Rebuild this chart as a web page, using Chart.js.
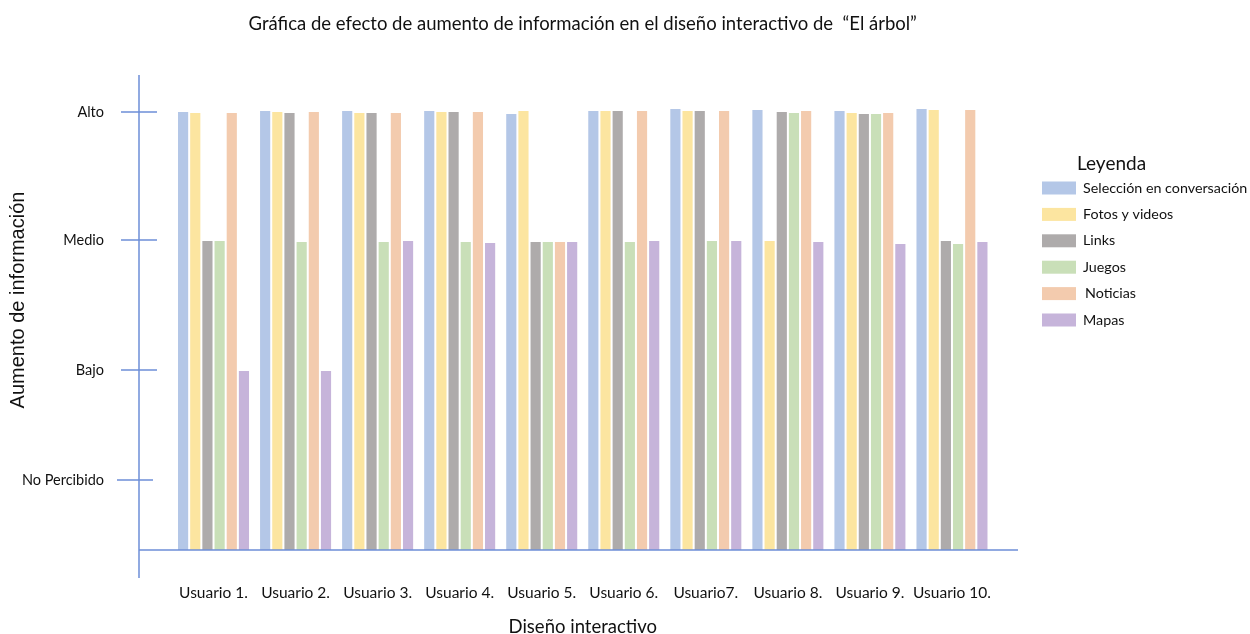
<!DOCTYPE html>
<html lang="es">
<head>
<meta charset="utf-8">
<title>Aumento de información – El árbol</title>
<script src="https://cdn.jsdelivr.net/npm/chart.js@4.4.1/dist/chart.umd.min.js"></script>
<style>
  html, body { margin: 0; padding: 0; background: #ffffff; }
  canvas { display: block; }
</style>
</head>
<body>
<canvas id="grafica" width="1250" height="634"></canvas>
<script>
// Usuarios evaluados
const usuarios = ['Usuario 1.', 'Usuario 2.', 'Usuario 3.', 'Usuario 4.', 'Usuario 5.',
                  'Usuario 6.', 'Usuario7.', 'Usuario 8.', 'Usuario 9.', 'Usuario 10.'];

// Niveles de la escala y su altura en el eje
const niveles = ['No Percibido', 'Bajo', 'Medio', 'Alto'];
const alturaNiveles = [0.70, 1.80, 3.10, 4.38];

// Aumento de información percibido por elemento
const seleccion = [4.39, 4.40, 4.40, 4.40, 4.37, 4.40, 4.42, 4.41, 4.40, 4.42];
const fotos     = [4.38, 4.39, 4.38, 4.39, 4.40, 4.40, 4.40, 3.10, 4.38, 4.41];
const links     = [3.10, 4.38, 4.38, 4.39, 3.09, 4.40, 4.40, 4.39, 4.37, 3.10];
const juegos    = [3.10, 3.09, 3.09, 3.09, 3.09, 3.09, 3.10, 4.38, 4.37, 3.07];
const noticias  = [4.38, 4.39, 4.38, 4.39, 3.09, 4.40, 4.40, 4.40, 4.38, 4.41];
const mapas     = [1.80, 1.80, 3.10, 3.08, 3.09, 3.10, 3.10, 3.09, 3.07, 3.09];

const nombresSeries = ['Selección en conversación', 'Fotos y videos', 'Links', 'Juegos', 'Noticias', 'Mapas'];
const valoresSeries = [seleccion, fotos, links, juegos, noticias, mapas];
const coloresSeries = ['#b4c7e7', '#fce5a0', '#aeabab', '#c9dfb8', '#f3cbae', '#c6b4da'];

const azulEje = '#6d8fd8';
const fuenteTexto = 'Lato, "Open Sans", sans-serif';

// Ejes dibujados a mano: línea vertical, línea base y marcas de nivel
const ejesPropios = {
  id: 'ejesPropios',
  afterDatasetsDraw(chart) {
    const { ctx, chartArea, scales: { y } } = chart;
    const ejeX = chartArea.left - 33.5;
    const base = y.getPixelForValue(0);
    ctx.save();
    ctx.strokeStyle = azulEje;
    ctx.lineWidth = 1.5;
    ctx.beginPath();
    ctx.moveTo(ejeX, y.getPixelForValue(4.75));
    ctx.lineTo(ejeX, base + 28);
    ctx.moveTo(ejeX, base);
    ctx.lineTo(chartArea.right + 25, base);
    y.ticks.forEach((t, i) => {
      const py = y.getPixelForValue(t.value);
      const desp = i === 0 ? -4 : 0;
      ctx.moveTo(ejeX - 18 + desp, py);
      ctx.lineTo(ejeX + 18 + desp, py);
    });
    ctx.stroke();
    ctx.restore();
  }
};

// Leyenda con título a la derecha de la gráfica
const leyendaPropia = {
  id: 'leyendaPropia',
  afterDraw(chart) {
    const { ctx, chartArea } = chart;
    const x0 = chartArea.right + 49;
    ctx.save();
    ctx.fillStyle = '#111';
    ctx.textBaseline = 'middle';
    ctx.textAlign = 'left';
    ctx.font = '19px ' + fuenteTexto;
    ctx.fillText('Leyenda', x0 + 35, 164);
    ctx.font = '14.3px ' + fuenteTexto;
    chart.data.datasets.forEach((ds, i) => {
      const cy = 188 + i * 26.4;
      ctx.fillStyle = ds.backgroundColor;
      ctx.fillRect(x0, cy - 6.5, 34, 13);
      ctx.fillStyle = '#111';
      ctx.fillText(ds.label, x0 + 41 + (i === 4 ? 2 : 0), cy);
    });
    ctx.restore();
  }
};

new Chart(document.getElementById('grafica'), {
  type: 'bar',
  data: {
    labels: usuarios,
    datasets: nombresSeries.map((nombre, i) => ({
      label: nombre,
      data: valoresSeries[i],
      backgroundColor: coloresSeries[i],
      borderColor: 'rgba(255,255,255,0.55)',
      borderWidth: 1,
      barPercentage: 1.0,
      categoryPercentage: 0.89
    }))
  },
  options: {
    responsive: false,
    animation: false,
    layout: { padding: { left: 0, right: 257, top: 0, bottom: 0 } },
    plugins: {
      legend: { display: false },
      tooltip: { enabled: false },
      title: {
        display: true,
        fullSize: false,
        text: 'Gráfica de efecto de aumento de información en el diseño interactivo de  “El árbol”',
        color: '#111',
        font: { family: fuenteTexto, size: 18.5, weight: 'normal', lineHeight: '19px' },
        padding: { top: 14.5, bottom: 16.5 }
      }
    },
    scales: {
      x: {
        grid: { display: false, drawTicks: false },
        border: { display: false },
        ticks: {
          color: '#111',
          padding: 34.6,
          maxRotation: 0,
          autoSkip: false,
          font: { family: fuenteTexto, size: 15.5, lineHeight: '17px' }
        },
        title: {
          display: true,
          text: 'Diseño interactivo',
          color: '#111',
          font: { family: fuenteTexto, size: 18.5, lineHeight: '14px' },
          padding: 0
        },
        afterFit(scale) { scale.height = 84; }
      },
      y: {
        min: 0,
        max: 5,
        grid: { display: false, drawTicks: false },
        border: { display: false },
        afterBuildTicks(scale) {
          scale.ticks = alturaNiveles.map(v => ({ value: v }));
        },
        ticks: {
          color: '#111',
          padding: 68.5,
          font: { family: fuenteTexto, size: 14.5 },
          callback: (valor, i) => niveles[i]
        },
        title: {
          display: true,
          text: 'Aumento de información',
          color: '#111',
          font: { family: '"Liberation Sans", Arial, sans-serif', size: 20, lineHeight: '20px' },
          padding: { top: 8, bottom: 0 }
        },
        afterFit(scale) {
          scale.width = 172.5;
          scale.paddingTop = 0;
          scale.paddingBottom = 0;
        }
      }
    }
  },
  plugins: [ejesPropios, leyendaPropia]
});
</script>
</body>
</html>
